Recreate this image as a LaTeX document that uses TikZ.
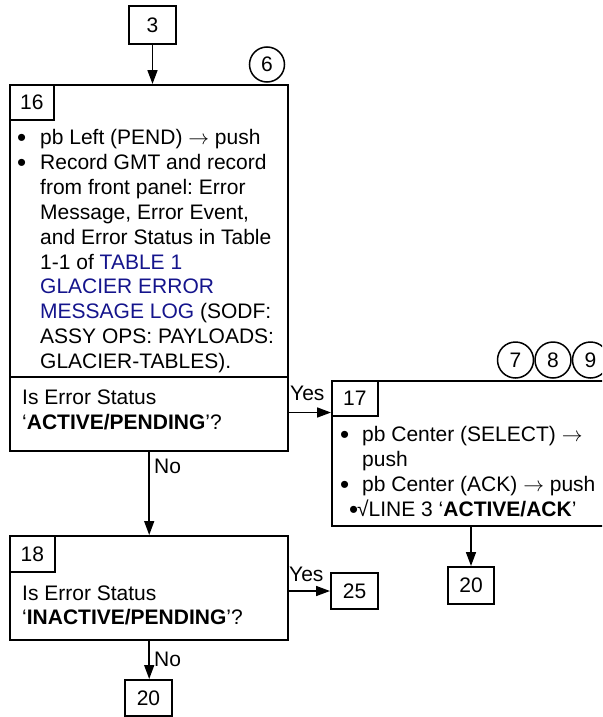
\documentclass[tikz,border=0pt]{standalone}
\usepackage{fontspec}
\setmainfont{Liberation Sans}
\usetikzlibrary{arrows.meta,calc}
\definecolor{linkblue}{RGB}{20,20,140}
\newcommand{\mybul}{{\fontsize{26}{25}\selectfont\raisebox{-2pt}{\textbullet}}}
\begin{document}
\frenchspacing
\begin{tikzpicture}[x=1pt,y=-1pt,
  bigbox/.style={draw, line width=2.4pt, rectangle, inner sep=0pt, anchor=north west},
  numbox/.style={draw, line width=1.7pt, rectangle, inner sep=0pt, anchor=north west, font=\fontsize{21}{25}\selectfont},
  termbox/.style={draw, line width=2pt, rectangle, inner sep=0pt, anchor=north west, font=\fontsize{21}{25}\selectfont},
  refcircle/.style={draw, circle, line width=1.5pt, inner sep=0pt, minimum size=36pt, font=\fontsize{21}{25}\selectfont},
  txt/.style={anchor=base west, inner sep=0pt, font=\fontsize{21}{25}\selectfont},
  conn/.style={line width=1.6pt, -{Triangle[length=14pt,width=10pt]}}
]
\useasboundingbox (0,0) rectangle (602,717);
\clip (0,0) rectangle (602,717);

% box 3
\node[termbox, minimum width=47pt, minimum height=38pt] (b3) at (128,5) {3};

% box 16
\node[bigbox, minimum width=278pt, minimum height=366pt] (b16) at (9,84) {};
\node[numbox, minimum width=44pt, minimum height=35pt] (l16) at (9,84) {16};
\node[refcircle, minimum size=35pt] (c6) at (267,64.5) {6};
\draw[line width=2.4pt] (b16.west |- 0,377) -- (b16.east |- 0,377);

\node[txt] (u1) at (17,144.5) {\mybul};
\node[txt] (t1) at (40,144.5) {pb Left (PEND) $\rightarrow$ push};
\node[txt] (u2) at (17,169.4) {\mybul};
\node[txt] (t2) at (40,169.4) {Record GMT and record};
\node[txt] (t3) at (40,194.3) {from front panel: Error};
\node[txt] (t4) at (40,219.2) {Message, Error Event,};
\node[txt] (t5) at (40,244.1) {and Error Status in Table};
\node[txt] (t6) at (40,269.0) {1-1 of \textcolor{linkblue}{TABLE 1}};
\node[txt] (t7) at (40,293.9) {\textcolor{linkblue}{GLACIER ERROR}};
\node[txt] (t8) at (40,318.8) {\textcolor{linkblue}{MESSAGE LOG} (SODF:};
\node[txt] (t9) at (40,343.7) {ASSY OPS: PAYLOADS:};
\node[txt] (t10) at (40,368.6) {GLACIER-TABLES).};
\node[txt] (q1) at (22,404) {Is Error Status};
\node[txt] (q2) at (22,429) {‘\textbf{ACTIVE/PENDING}’?};

% box 17
\node[bigbox, minimum width=280pt, minimum height=145pt] (b17) at (331,380) {};
\node[numbox, minimum width=46pt, minimum height=35pt] (l17) at (331,380) {17};
\node[refcircle] (c7) at (515.5,360) {7};
\node[refcircle] (c8) at (553,360) {8};
\node[refcircle] (c9) at (590.5,360) {9};
\node[txt] (s1u) at (340,441) {\mybul};
\node[txt] (s1) at (362,441) {pb Center (SELECT) $\rightarrow$};
\node[txt] (s2) at (362,466) {push};
\node[txt] (s3u) at (340,491) {\mybul};
\node[txt] (s3) at (362,491) {pb Center (ACK) $\rightarrow$ push};
\node[txt] (s4u) at (349,516) {\mybul};
\node[txt] (s4) at (357,516) {√LINE 3 ‘\textbf{ACTIVE/ACK}’};

% box 20 (right)
\node[termbox, minimum width=46pt, minimum height=37pt] (b20a) at (447,566) {20};

% box 18
\node[bigbox, minimum width=278pt, minimum height=104pt] (b18) at (9,535) {};
\node[numbox, minimum width=45pt, minimum height=36pt] (l18) at (9,535) {18};
\node[txt] (r1) at (22,600) {Is Error Status};
\node[txt] (r2) at (22,624.5) {‘\textbf{INACTIVE/PENDING}’?};

% box 25
\node[termbox, minimum width=47pt, minimum height=36pt] (b25) at (330,572) {25};

% box 20 (bottom)
\node[termbox, minimum width=47pt, minimum height=36pt] (b20b) at (124,679) {20};

% connectors
\coordinate (y17) at (331,412.5);
\draw[conn] (b3.south) -- (b3.south |- b16.north);
\draw[conn] (b16.east |- y17) -- (y17);
\draw[conn] (b16.south) -- (b18.north);
\draw[conn] (b20a.north |- b17.south) -- (b20a.north);
\draw[conn] (b18.east |- b25.west) -- (b25.west);
\draw[conn] (b18.south) -- (b18.south |- b20b.north);

% connector labels
\node[txt] (yes1) at (290,400) {Yes};
\node[txt] (no1) at (154,473) {No};
\node[txt] (yes2) at (289,581) {Yes};
\node[txt] (no2) at (154,666) {No};
\end{tikzpicture}
\end{document}
